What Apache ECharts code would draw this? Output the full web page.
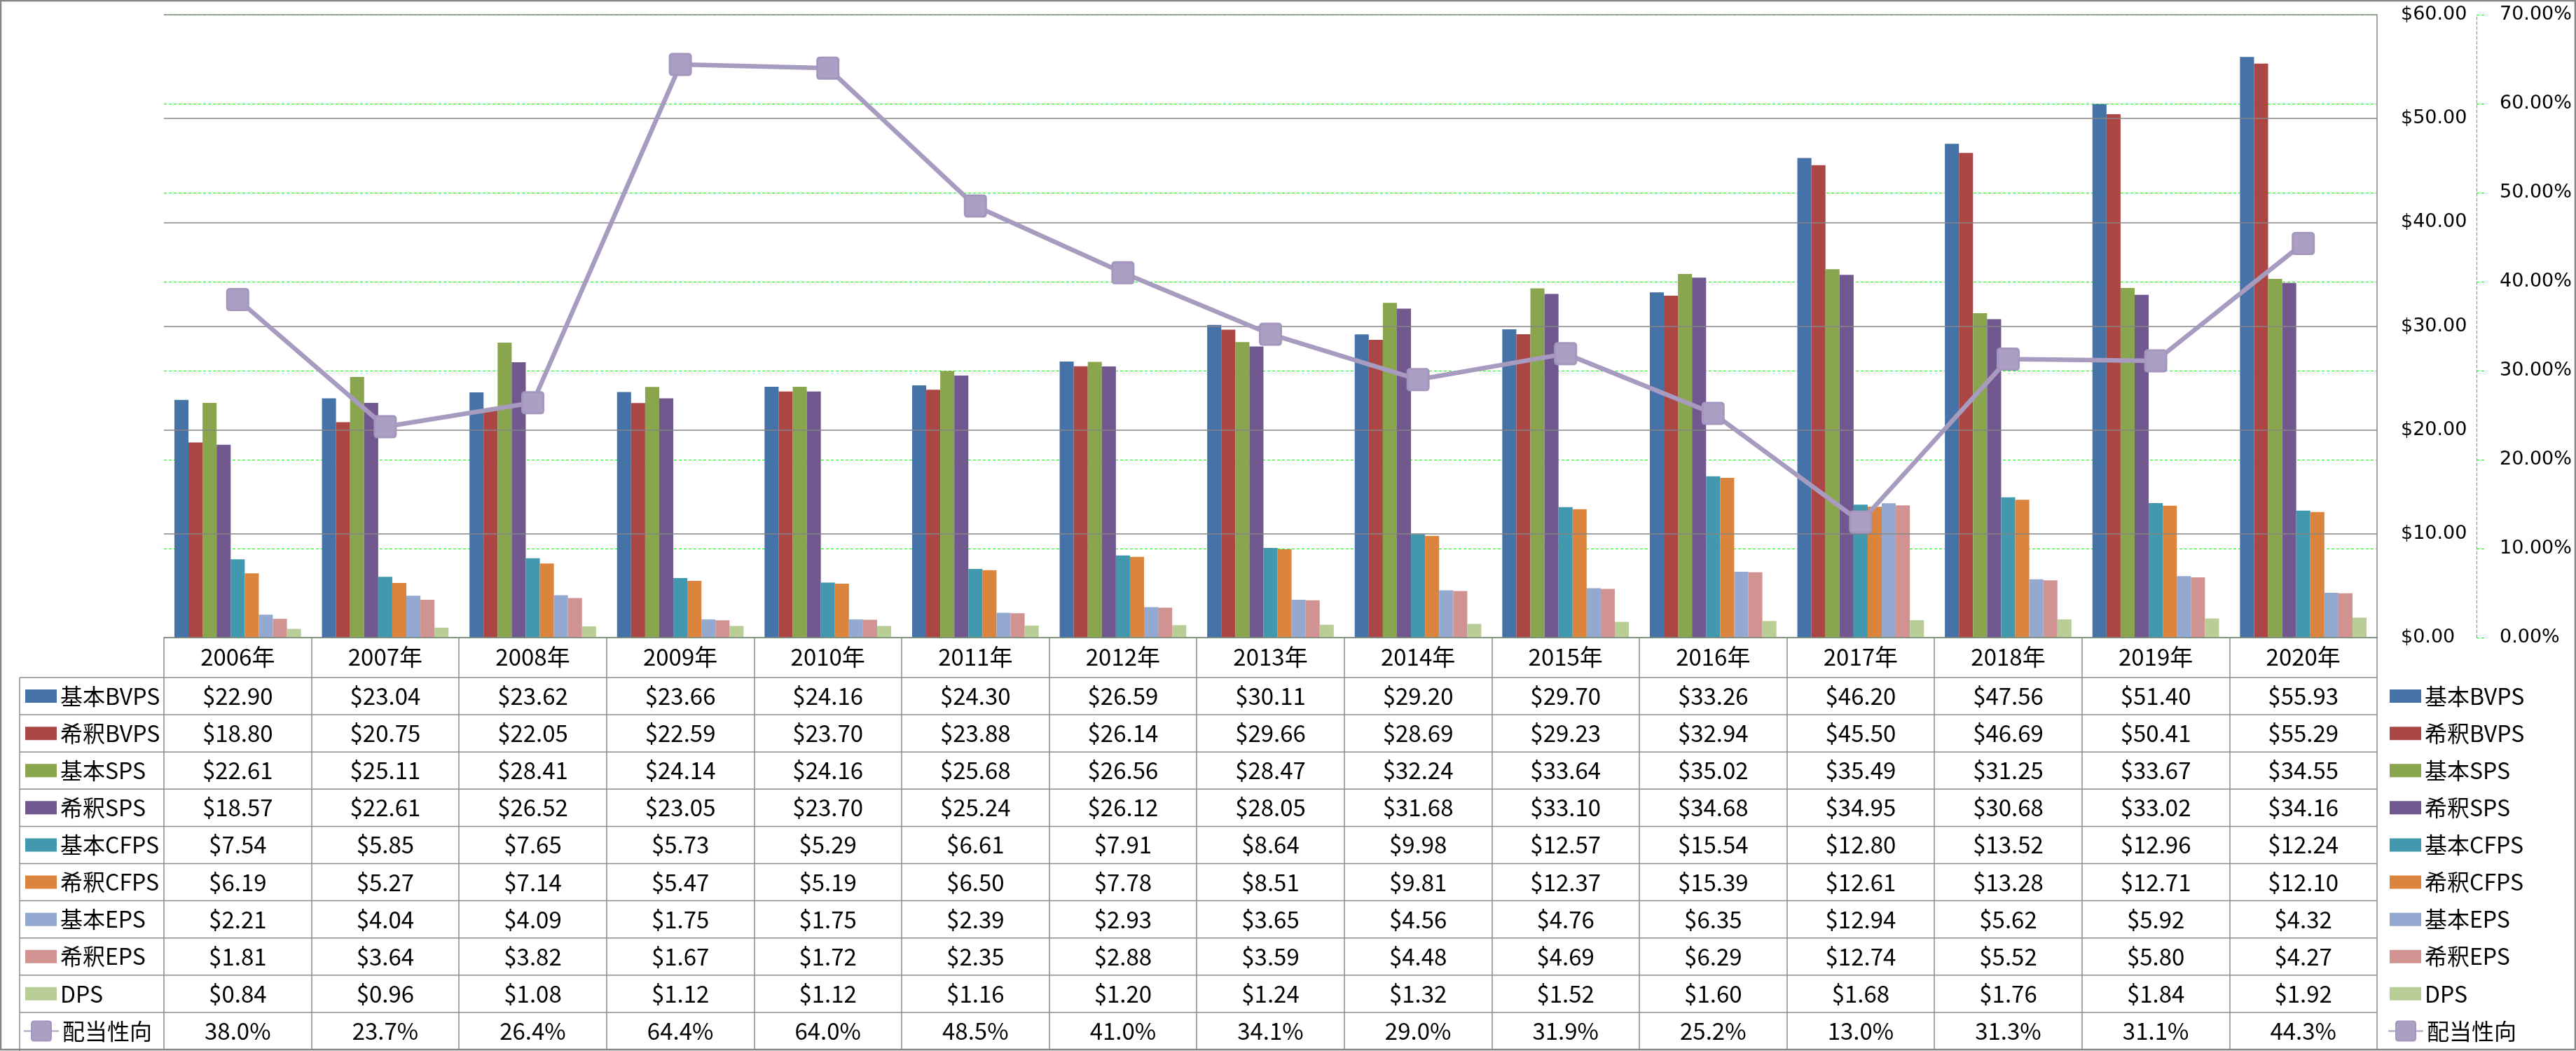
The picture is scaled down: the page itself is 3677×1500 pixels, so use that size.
<!DOCTYPE html>
<html><head><meta charset="utf-8">
<script src="https://cdn.jsdelivr.net/npm/echarts@6/dist/echarts.min.js"></script>
<style>html,body{margin:0;padding:0;background:#fff}#c{width:3677px;height:1500px}</style>
</head><body><div id="c"></div>
<script>
const years = ['2006年','2007年','2008年','2009年','2010年','2011年','2012年','2013年','2014年','2015年','2016年','2017年','2018年','2019年','2020年'];
const basicBVPS = [22.90,23.04,23.62,23.66,24.16,24.30,26.59,30.11,29.20,29.70,33.26,46.20,47.56,51.40,55.93];
const dilBVPS   = [18.80,20.75,22.05,22.59,23.70,23.88,26.14,29.66,28.69,29.23,32.94,45.50,46.69,50.41,55.29];
const basicSPS  = [22.61,25.11,28.41,24.14,24.16,25.68,26.56,28.47,32.24,33.64,35.02,35.49,31.25,33.67,34.55];
const dilSPS    = [18.57,22.61,26.52,23.05,23.70,25.24,26.12,28.05,31.68,33.10,34.68,34.95,30.68,33.02,34.16];
const basicCFPS = [7.54,5.85,7.65,5.73,5.29,6.61,7.91,8.64,9.98,12.57,15.54,12.80,13.52,12.96,12.24];
const dilCFPS   = [6.19,5.27,7.14,5.47,5.19,6.50,7.78,8.51,9.81,12.37,15.39,12.61,13.28,12.71,12.10];
const basicEPS  = [2.21,4.04,4.09,1.75,1.75,2.39,2.93,3.65,4.56,4.76,6.35,12.94,5.62,5.92,4.32];
const dilEPS    = [1.81,3.64,3.82,1.67,1.72,2.35,2.88,3.59,4.48,4.69,6.29,12.74,5.52,5.80,4.27];
const DPS       = [0.84,0.96,1.08,1.12,1.12,1.16,1.20,1.24,1.32,1.52,1.60,1.68,1.76,1.84,1.92];
const payout    = [38.0,23.7,26.4,64.4,64.0,48.5,41.0,34.1,29.0,31.9,25.2,13.0,31.3,31.1,44.3];

const barNames = ['基本BVPS','希釈BVPS','基本SPS','希釈SPS','基本CFPS','希釈CFPS','基本EPS','希釈EPS','DPS'];
const barData = [basicBVPS,dilBVPS,basicSPS,dilSPS,basicCFPS,dilCFPS,basicEPS,dilEPS,DPS];
const barColors = ['#4572A7','#AA4643','#89A54E','#71588F','#4198AF','#DB843D','#93A9CF','#D19392','#B9CD96'];
const lineName = '配当性向';
const lineColor = '#A89BC0';

const FONT_CJK = '"Noto Sans CJK JP", "Noto Sans", sans-serif';
const FONT_AX = '"DejaVu Sans", sans-serif';
const GRAY = '#868686';
const GREEN = '#00FF00';

const ROW_TOP = 967, ROW_H = 53.1;
const MARKER = 'path://M4,0 H26 Q30,0 30,4 V26 Q30,30 26,30 H4 Q0,30 0,26 V4 Q0,0 4,0 Z';

const chart = echarts.init(document.getElementById('c'), null, {renderer: 'canvas'});

const series = barNames.map((n, i) => ({
  name: n, type: 'bar', yAxisIndex: 0, data: barData[i],
  barGap: '0%', barCategoryGap: '14.2%',
  itemStyle: {color: barColors[i]}
}));
series.push({
  name: lineName, type: 'line', yAxisIndex: 1, data: payout, z: 10,
  symbol: MARKER, symbolSize: 30,
  lineStyle: {color: lineColor, width: 6.5},
  itemStyle: {color: '#AC9FC4', borderColor: '#A496BC', borderWidth: 3}
});

const legendText = {fontSize: 32, fontFamily: FONT_CJK, color: '#000', lineHeight: 40};
const legendCommon = {orient: 'vertical', padding: 0, selectedMode: false, textStyle: legendText, itemGap: ROW_H - 40};

chart.setOption({
  animation: false,
  backgroundColor: '#fff',
  grid: {left: 234, right: 284, top: 21, bottom: 590, containLabel: false},
  legend: [
    Object.assign({data: barNames, left: 36, top: ROW_TOP + ROW_H/2 - 20, itemWidth: 45, itemHeight: 19, icon: 'rect'}, legendCommon),
    Object.assign({data: [lineName], left: 33, top: ROW_TOP + 9.5*ROW_H - 20, itemWidth: 50, itemHeight: 35}, legendCommon),
    Object.assign({data: barNames, left: 3411, top: ROW_TOP + ROW_H/2 - 20, itemWidth: 45, itemHeight: 19, icon: 'rect'}, legendCommon),
    Object.assign({data: [lineName], left: 3408, top: ROW_TOP + 9.5*ROW_H - 20, itemWidth: 50, itemHeight: 35}, legendCommon)
  ],
  xAxis: {
    type: 'category', data: years,
    axisLine: {show: true, lineStyle: {color: GRAY, width: 1.5}},
    axisTick: {show: true, alignWithLabel: false, interval: 0, length: 588, lineStyle: {color: '#8C8C8C', width: 1.5}},
    axisLabel: {interval: 0, fontSize: 33, fontFamily: FONT_CJK, color: '#000', margin: 11},
    splitLine: {show: false}
  },
  yAxis: [
    {
      type: 'value', min: 0, max: 60, interval: 10, position: 'right',
      axisLine: {show: true, lineStyle: {color: GRAY, width: 1.5}},
      axisTick: {show: false},
      axisLabel: {formatter: v => '$' + v.toFixed(2), margin: 34, fontSize: 27, fontFamily: FONT_AX, color: '#000'},
      splitLine: {show: true, lineStyle: {color: GRAY, width: 1.5}},
      z: 3
    },
    {
      type: 'value', min: 0, max: 70, interval: 10, position: 'right', offset: 142,
      axisLine: {show: true, lineStyle: {color: GREEN, width: 1.2, type: [4, 3]}},
      axisTick: {show: true, length: 11, lineStyle: {color: GREEN, width: 1.2, type: [4, 3]}},
      axisLabel: {formatter: v => v.toFixed(2) + '%', margin: 33, fontSize: 27, fontFamily: FONT_AX, color: '#000'},
      splitLine: {show: true, lineStyle: {color: GREEN, width: 1.2, type: [4, 3]}},
      z: 2
    }
  ],
  series: series
});

// data table built from the same arrays, positioned by the category axis
const graphics = [];
const xL = 28;
const c0 = chart.convertToPixel({xAxisIndex: 0}, 0);
const c1 = chart.convertToPixel({xAxisIndex: 0}, 1);
const cw = c1 - c0;
const plotRight = c0 - cw/2 + cw * years.length;
for (let k = 0; k <= 10; k++) {
  const y = ROW_TOP + k * ROW_H;
  graphics.push({type: 'line', shape: {x1: xL, y1: y, x2: plotRight, y2: y}, style: {stroke: '#8C8C8C', lineWidth: 1.5}, silent: true});
}
graphics.push({type: 'line', shape: {x1: xL, y1: ROW_TOP, x2: xL, y2: 1500}, style: {stroke: '#8C8C8C', lineWidth: 1.5}, silent: true});
const rows = barData.map(arr => arr.map(v => '$' + v.toFixed(2)));
rows.push(payout.map(v => v.toFixed(1) + '%'));
rows.forEach((r, ri) => {
  const cy = ROW_TOP + (ri + 0.5) * ROW_H;
  r.forEach((t, ci) => {
    const cx = chart.convertToPixel({xAxisIndex: 0}, ci);
    graphics.push({type: 'text', x: cx, y: cy, silent: true,
      style: {text: t, fontSize: 33, fontFamily: FONT_CJK, fill: '#000', align: 'center', verticalAlign: 'middle'}});
  });
});
graphics.push({type: 'rect', shape: {x: 1, y: 1, width: 3675, height: 1497}, style: {fill: 'none', stroke: GRAY, lineWidth: 2.5}, silent: true, z: 100});
chart.setOption({graphic: graphics});
</script>
</body></html>
